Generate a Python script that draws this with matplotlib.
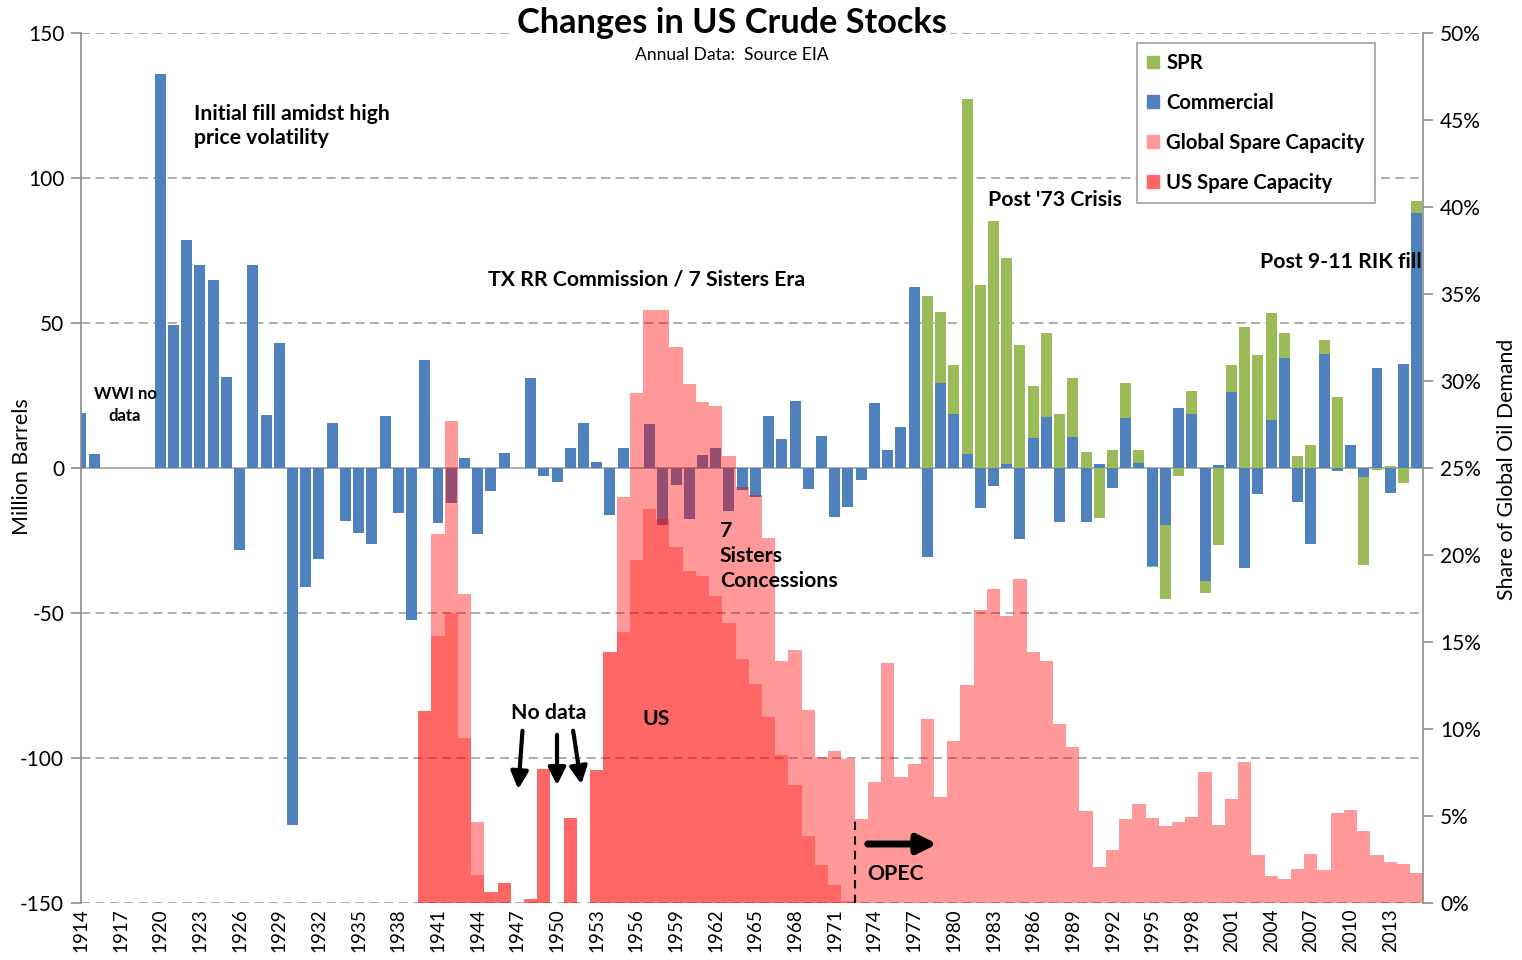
import numpy as np
import matplotlib
matplotlib.use("Agg")
import matplotlib.pyplot as plt
from matplotlib.patches import Patch

plt.rcParams['font.family'] = ['Lato', 'DejaVu Sans']

nan = np.nan
years = np.arange(1914, 2016)

# Commercial crude stock change (million barrels), 1914-2015
commercial = [
    19, 5, nan, nan, nan, nan,
    136, 49.3, 78.8, 70.2, 64.9, 31.4, -28.4, 69.9, 18.2, 43.3,
    -123.1, -41.2, -31.5, 15.4, -18.3, -22.4, -26.3, 17.8, -15.5, -52.6,
    37.4, -18.9, -12.0, 3.6, -22.8, -8.1, 5.3, nan, 31.1, -2.9,
    -4.9, 7.0, 15.7, 2.1, -16.1, 6.9, 0, 15.3, -19.6, -5.9,
    -17.6, 4.6, 7.0, -15.0, -7.5, -9.9, 17.8, 10.1, 23.1, -7.2,
    10.9, -16.9, -13.5, -4.0, 22.4, 6.1, 14.2, 62.3, -30.7, 29.4,
    18.8, 4.9, -13.7, -6.1, 1.3, -24.5, 10.4, 17.6, -18.6, 10.6,
    -18.6, 1.4, -6.9, 17.3, 1.7, -33.9, -19.8, 20.7, 18.6, -39.0,
    0.9, 26.2, -34.4, -8.9, 16.5, 37.8, -11.7, -26.2, 39.5, -0.9,
    8.1, -3.0, 34.5, -8.6, 35.9, 88.1,
]

# SPR stock change (million barrels), 1914-2015
spr = [0] * 63 + [
    0, 59.3, 24.3,
    16.7, 122.5, 63.1, 85.1, 71.2, 42.6, 17.9, 29.1, 18.5, 20.5,
    5.5, -17.3, 6.1, 12.1, 4.6, -0.4, -25.4, -2.6, 8.0, -4.1,
    -26.4, 9.5, 48.5, 39.1, 37.1, 8.9, 4.0, 8.1, 4.8, 24.5,
    -0.5, -30.5, -0.6, 0.6, -5.1, 4.0,
]

# Global spare capacity (% of global oil demand), 1914-2015
global_spare = [nan] * 26 + [
    nan, 21.2, 27.7, 17.73, 4.62, nan, nan, nan, nan, nan,
    nan, nan, nan, nan, nan, 23.35, 29.3, 34.08, 34.08, 31.94,
    29.81, 28.81, 28.58, 25.69, 23.89, 23.44, 20.97, 13.9, 14.53, 11.08,
    8.4, 8.72, 8.26, 4.79, 6.92, 13.8, 7.25, 7.96, 10.54, 6.06,
    9.3, 12.5, 16.83, 18.02, 16.5, 18.6, 14.42, 13.9, 10.26, 8.97,
    5.27, 2.03, 3.03, 4.79, 5.67, 4.85, 4.39, 4.62, 4.93, 7.52,
    4.49, 5.96, 8.11, 2.76, 1.55, 1.38, 1.96, 2.82, 1.88, 5.16,
    5.31, 4.12, 2.76, 2.36, 2.22, 1.73,
]

# US spare capacity (% of global oil demand), 1914-2015
us_spare = [nan] * 26 + [
    11.04, 15.36, 16.64, 9.45, 1.59, 0.63, 1.15, nan, 0.2, 7.69,
    nan, 4.85, nan, 7.63, 14.4, 15.59, 19.71, 22.66, 22.05, 20.44,
    19.08, 18.79, 17.66, 16.1, 14.01, 12.58, 10.66, 8.49, 6.77, 3.85,
    2.17, 1.02, 0.1,
] + [nan] * 43

left_ticks = [-150, -100, -50, 0, 50, 100, 150]
right_ticks = [0, 5, 10, 15, 20, 25, 30, 35, 40, 45, 50]
xtick_years = list(range(1914, 2016, 3))

BLUE = '#4F81BD'
GREEN = '#9BBB59'
GRID = '#A6A6A6'
AXC = '#8C8C8C'

com = np.array(commercial, dtype=float)
sp = np.array(spr, dtype=float)
gl = np.array(global_spare, dtype=float)
us = np.array(us_spare, dtype=float)

W, H = 1522, 960
fig = plt.figure(figsize=(W / 100, H / 100), dpi=100)
L, R, T, B = 80.9, 1423.3, 33.3, 902.7
ax = fig.add_axes([L / W, 1 - B / H, (R - L) / W, (B - T) / H])
ax2 = ax.twinx()

ax.set_xlim(1914, 2015.5)
ax.set_ylim(-150, 150)
ax2.set_ylim(0, 50)

# stacked stock changes
com0 = np.nan_to_num(com)
spr_bottom = np.where(sp >= 0, np.maximum(com0, 0), np.minimum(com0, 0))
ax.bar(years, com, width=0.83, color=BLUE, zorder=2, linewidth=0)
ax.bar(years, sp, bottom=spr_bottom, width=0.83, color=GREEN, zorder=2, linewidth=0)

# grid
for v in left_ticks:
    if v == 0:
        ax.axhline(0, color=GRID, lw=1.3, zorder=1)
    else:
        ax.axhline(v, color=GRID, lw=1.3, ls=(0, (5, 3)), zorder=0)

# spare capacity (semi transparent, drawn over stock bars)
us0 = np.nan_to_num(us)
mg = ~np.isnan(gl) & (gl > us0)
ax2.bar(years[mg], (gl - us0)[mg], bottom=us0[mg], width=1.0,
        color=(1, 0, 0, 0.4), linewidth=0, antialiased=False)
mu = ~np.isnan(us)
ax2.bar(years[mu], us[mu], width=1.0, color=(1, 0, 0, 0.6),
        linewidth=0, antialiased=False)

# axes styling
for s in ['top', 'bottom', 'right']:
    ax.spines[s].set_visible(False)
for s in ['top', 'bottom', 'left']:
    ax2.spines[s].set_visible(False)
ax.spines['left'].set_color(AXC)
ax2.spines['right'].set_color(AXC)
ax.spines['left'].set_linewidth(1.2)
ax2.spines['right'].set_linewidth(1.2)

ax.set_yticks(left_ticks)
ax.set_yticklabels([str(v) for v in left_ticks])
ax.tick_params(axis='y', length=7, width=1.2, color=AXC, labelsize=15, pad=5)
ax2.set_yticks(right_ticks)
ax2.set_yticklabels([f'{v}%' for v in right_ticks])
ax2.tick_params(axis='y', length=7, width=1.2, color=AXC, labelsize=15, pad=5)
ax.set_xticks(xtick_years)
ax.set_xticklabels([str(y) for y in xtick_years], rotation=90)
ax.tick_params(axis='x', length=0, labelsize=13.5, pad=4)

def P(x, y):
    return (x / W, 1 - y / H)

fig.text(*P(22, 467), 'Million Barrels', rotation=90, ha='center', va='center', fontsize=15.5)
fig.text(*P(1507, 469), 'Share of Global Oil Demand', rotation=90, ha='center', va='center', fontsize=15.3)

fig.text(*P(732, 23), 'Changes in US Crude Stocks', ha='center', va='center',
         fontsize=24.7, fontweight='bold',
         bbox=dict(facecolor='white', edgecolor='none', pad=2))
fig.text(*P(732, 55), 'Annual Data:  Source EIA', ha='center', va='center', fontsize=12.6)

bold = dict(fontweight='bold', fontsize=15.3, va='center', ha='left')
fig.text(*P(194, 126), 'Initial fill amidst high\nprice volatility', linespacing=1.3, **bold)
fig.text(*P(125, 405), 'WWI no\ndata', ha='center', va='center', fontweight='bold',
         fontsize=12, linespacing=1.4)
fig.text(*P(488, 279), 'TX RR Commission / 7 Sisters Era', **bold)
fig.text(*P(988, 200), "Post '73 Crisis", **bold)
fig.text(*P(1260, 262), 'Post 9-11 RIK fill', **bold)
fig.text(*P(720, 556), '7\nSisters\nConcessions', linespacing=1.3, **bold)
fig.text(*P(642, 719), 'US', **bold)
fig.text(*P(511, 713), 'No data', **bold)
fig.text(*P(867, 874), 'OPEC', **bold)

def PX(x, y):
    return (x, H - y)

arrow_kw = dict(arrowstyle='-|>', lw=3, color='black', mutation_scale=26)
for (x0, y0, x1, y1) in [(522.7, 728, 518, 792), (557, 732, 557, 788), (572.7, 728, 581.7, 787)]:
    ax2.annotate('', xy=PX(x1, y1), xytext=PX(x0, y0), xycoords='figure pixels',
                 textcoords='figure pixels', arrowprops=arrow_kw)
ax2.annotate('', xy=PX(940, 844), xytext=PX(865, 844), xycoords='figure pixels',
             textcoords='figure pixels',
             arrowprops=dict(arrowstyle='-|>', lw=5, color='black', mutation_scale=28))
ax2.plot([1972.5, 1972.5], [0, 4.8], color='black', lw=1.5, ls=(0, (4, 3)))

handles = [Patch(color=GREEN), Patch(color=BLUE), Patch(color='#FF9999'), Patch(color='#FF6666')]
labels = ['SPR', 'Commercial', 'Global Spare Capacity', 'US Spare Capacity']
leg = ax2.legend(handles, labels, loc='upper left', bbox_to_anchor=P(1137, 43),
                 bbox_transform=fig.transFigure, frameon=True, fancybox=False,
                 edgecolor='#A0A0A0', framealpha=1, borderaxespad=0,
                 prop=dict(weight='bold', size=14.6), handlelength=0.6, handleheight=0.6,
                 handletextpad=0.35, labelspacing=0.98, borderpad=0.5)
leg.get_frame().set_linewidth(1.2)

fig.savefig('out.png', dpi=100)
